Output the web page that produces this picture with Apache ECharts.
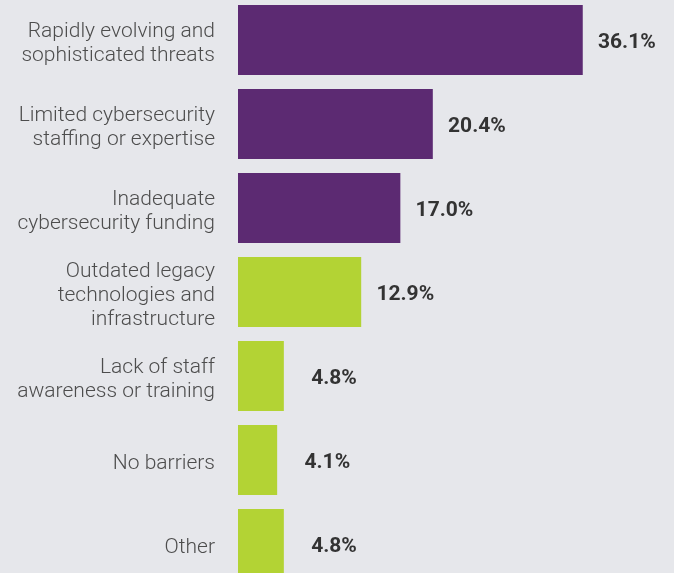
<!DOCTYPE html>
<html>
<head>
<meta charset="utf-8">
<script src="https://cdn.jsdelivr.net/npm/echarts@6/dist/echarts.min.js"></script>
<style>
  html, body { margin: 0; padding: 0; background: #e6e7eb; }
  #chart { width: 674px; height: 573px; }
</style>
</head>
<body>
<div id="chart"></div>
<script>
// Barriers to cybersecurity, share of respondents (%)
const categories = [
  'Rapidly evolving and\nsophisticated threats',
  'Limited cybersecurity\nstaffing or expertise',
  'Inadequate\ncybersecurity funding',
  'Outdated legacy\ntechnologies and\ninfrastructure',
  'Lack of staff\nawareness or training',
  'No barriers',
  'Other'
];
const values = [36.1, 20.4, 17.0, 12.9, 4.8, 4.1, 4.8];
// top three barriers are highlighted
const highlighted = [true, true, true, false, false, false, false];

const PURPLE = '#5c2a72';
const GREEN = '#b3d334';

const labelFont = {
  color: '#4d4d4d',
  fontFamily: 'Roboto',
  fontWeight: 300,
  fontSize: 21,
  lineHeight: 24,
  align: 'right'
};

const chart = echarts.init(document.getElementById('chart'), null, { renderer: 'canvas' });
chart.setOption({
  backgroundColor: '#e6e7eb',
  animation: false,
  grid: {
    left: 238, right: 54, top: -2, bottom: -13,
    containLabel: false,
    outerBoundsMode: 'none'
  },
  xAxis: {
    type: 'value', min: 0, max: 40,
    show: false
  },
  yAxis: {
    type: 'category',
    data: categories,
    inverse: true,
    axisLine: { show: false },
    axisTick: { show: false },
    axisLabel: Object.assign({
      margin: 23,
      // every line gets a little top padding so the text sits slightly lower in its row
      formatter: v => v.split('\n').map(l => `{t|${l}}`).join('\n'),
      rich: {
        t: Object.assign({ padding: [7, 0, 0, 0] }, labelFont)
      }
    }, labelFont)
  },
  series: [{
    type: 'bar',
    barWidth: 70,
    data: values.map((v, i) => ({ value: v, itemStyle: { color: highlighted[i] ? PURPLE : GREEN } })),
    label: {
      show: true,
      position: 'right',
      distance: 72,
      align: 'right',
      offset: [1, 3],
      formatter: p => p.value.toFixed(1) + '%',
      color: '#333333',
      fontFamily: 'Roboto',
      fontWeight: 'bold',
      fontSize: 21
    }
  }]
});
</script>
</body>
</html>
